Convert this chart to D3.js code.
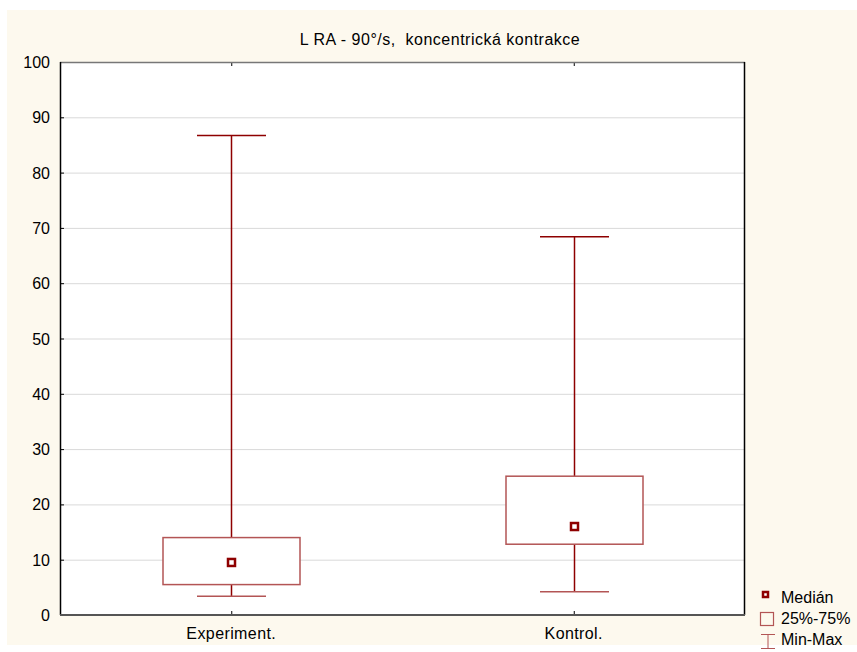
<!DOCTYPE html>
<html><head><meta charset="utf-8">
<script src="https://cdn.jsdelivr.net/npm/d3@7"></script>
<style>body{margin:0;background:#fff}svg{display:block;font-family:"Liberation Sans",Arial,sans-serif}text{white-space:pre}</style>
</head><body>
<svg id="c" width="857" height="652"></svg>
<script>
const title = "L RA - 90°/s,  koncentrická kontrakce";
const categories = ["Experiment.", "Kontrol."];
const minVals = [3.4, 4.2];
const q1Vals = [5.5, 12.8];
const medians = [9.5, 16.0];
const q3Vals = [14.0, 25.1];
const maxVals = [86.7, 68.4];
const yTicks = [0, 10, 20, 30, 40, 50, 60, 70, 80, 90, 100];
const legendLabels = ["Medián", "25%-75%", "Min-Max"];

const svg = d3.select("#c");
const red = "#8e0000", boxRed = "#b35555";
svg.append("rect").attr("x", 7).attr("y", 10).attr("width", 850).attr("height", 635).attr("fill", "#fdf9ee");

const L = 60, R = 745, T = 62, B = 615;
const x = d3.scalePoint().domain(categories).range([L, R]).padding(0.5);
const y = d3.scaleLinear().domain([0, 100]).range([B, T]);

svg.append("rect").attr("x", L).attr("y", T).attr("width", R - L).attr("height", B - T).attr("fill", "#fff");

// gridlines
svg.append("g").selectAll("line").data(yTicks.filter(d => d > 0 && d < 100)).join("line")
  .attr("x1", L).attr("x2", R).attr("y1", d => y(d) + 0.5).attr("y2", d => y(d) + 0.5)
  .attr("stroke", "#d9d9d9").attr("stroke-width", 1);

// y axis
const ya = svg.append("g").attr("transform", `translate(${L},0)`)
  .call(d3.axisRight(y).tickValues(yTicks).tickSize(4).tickFormat(""));
ya.select(".domain").remove();
ya.selectAll("line").attr("stroke", "#000");
svg.append("g").selectAll("text").data(yTicks).join("text")
  .attr("x", L - 10).attr("y", d => y(d) + 6).attr("text-anchor", "end")
  .attr("font-size", 16).attr("fill", "#000").text(d => d);

// x ticks
const xa = svg.append("g").attr("transform", `translate(0,${B})`)
  .call(d3.axisTop(x).tickSize(4).tickFormat(""));
xa.select(".domain").remove();
xa.selectAll("line").attr("stroke", "#000");
const xt = svg.append("g").attr("transform", `translate(0,${T})`)
  .call(d3.axisBottom(x).tickSize(4).tickFormat(""));
xt.select(".domain").remove();
xt.selectAll("line").attr("stroke", "#000");
svg.append("g").selectAll("text").data(categories).join("text")
  .attr("x", d => x(d)).attr("y", 639).attr("text-anchor", "middle")
  .attr("font-size", 16).attr("letter-spacing", 0.4).attr("fill", "#000").text(d => d);

// border
svg.append("line").attr("x1", L).attr("x2", R).attr("y1", T + 0.5).attr("y2", T + 0.5).attr("stroke", "#777").attr("stroke-width", 1.5);
svg.append("line").attr("x1", R - 0.5).attr("x2", R - 0.5).attr("y1", T).attr("y2", B).attr("stroke", "#000").attr("stroke-width", 1.5);
svg.append("line").attr("x1", L + 0.5).attr("x2", L + 0.5).attr("y1", T).attr("y2", B).attr("stroke", "#000").attr("stroke-width", 1.5);
svg.append("line").attr("x1", L).attr("x2", R).attr("y1", B).attr("y2", B).attr("stroke", "#555").attr("stroke-width", 2);

// boxes
const boxW = 137, capW = 69;
const g = svg.append("g");
categories.forEach((c, i) => {
  const cx = Math.round(x(c)) + 0.5;
  g.append("line").attr("x1", cx).attr("x2", cx).attr("y1", y(maxVals[i])).attr("y2", y(q3Vals[i])).attr("stroke", red).attr("stroke-width", 1.5);
  g.append("line").attr("x1", cx).attr("x2", cx).attr("y1", y(q1Vals[i])).attr("y2", y(minVals[i])).attr("stroke", red).attr("stroke-width", 1.5);
  g.append("line").attr("x1", cx - capW / 2).attr("x2", cx + capW / 2).attr("y1", y(maxVals[i])).attr("y2", y(maxVals[i])).attr("stroke", red).attr("stroke-width", 1.5);
  g.append("line").attr("x1", cx - capW / 2).attr("x2", cx + capW / 2).attr("y1", y(minVals[i])).attr("y2", y(minVals[i])).attr("stroke", boxRed).attr("stroke-width", 1.5);
  g.append("rect").attr("x", cx - boxW / 2).attr("y", y(q3Vals[i])).attr("width", boxW)
    .attr("height", y(q1Vals[i]) - y(q3Vals[i])).attr("fill", "#fff").attr("stroke", boxRed).attr("stroke-width", 1.5);
  g.append("rect").attr("x", cx - 3.5).attr("y", y(medians[i]) - 3.5).attr("width", 7).attr("height", 7)
    .attr("fill", "#fff").attr("stroke", red).attr("stroke-width", 2.5);
});

// title
svg.append("text").attr("x", 440).attr("y", 45).attr("text-anchor", "middle").attr("font-size", 16)
  .attr("letter-spacing", 0.5).attr("fill", "#000").text(title);

// legend
const lg = svg.append("g");
lg.append("rect").attr("x", 763).attr("y", 592).attr("width", 5).attr("height", 5).attr("fill", "#fff").attr("stroke", red).attr("stroke-width", 2.5);
lg.append("rect").attr("x", 760.5).attr("y", 612.5).attr("width", 13).attr("height", 13).attr("fill", "none").attr("stroke", boxRed).attr("stroke-width", 1.2);
lg.append("line").attr("x1", 761).attr("x2", 775).attr("y1", 634.5).attr("y2", 634.5).attr("stroke", boxRed);
lg.append("line").attr("x1", 761).attr("x2", 775).attr("y1", 648.5).attr("y2", 648.5).attr("stroke", boxRed);
lg.append("line").attr("x1", 768).attr("x2", 768).attr("y1", 634.5).attr("y2", 648.5).attr("stroke", boxRed);
lg.selectAll("text").data(legendLabels).join("text")
  .attr("x", 781).attr("y", (d, i) => 603 + i * 21).attr("font-size", 16).attr("fill", "#000").text(d => d);
</script>
</body></html>
